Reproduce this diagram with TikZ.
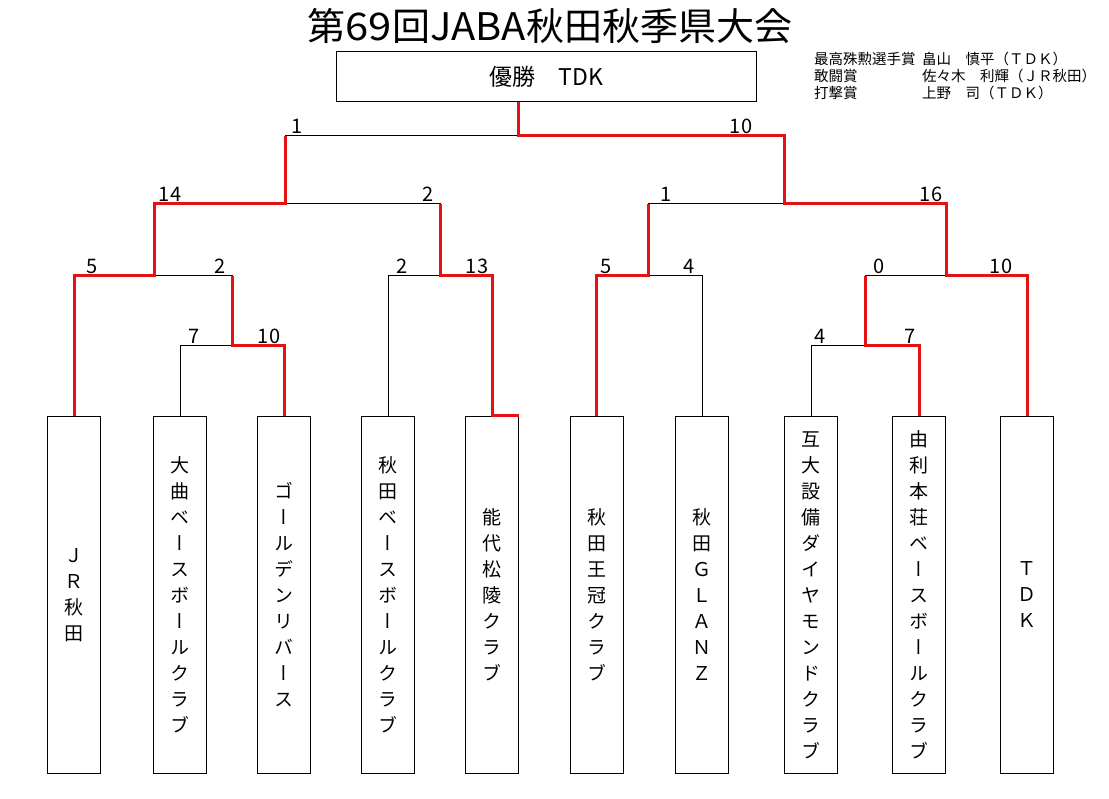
\documentclass[tikz,border=0pt]{standalone}
\usepackage{fontspec}
\usepackage{graphicx}
\setmainfont{Noto Sans CJK JP}
\newfontfamily\vfont[RawFeature=+vert]{Noto Sans CJK JP}
\definecolor{winred}{RGB}{228,18,18}
\begin{document}
\begin{tikzpicture}[x=1pt,y=-1pt,
  team/.style={draw,line width=1pt,minimum width=53,minimum height=357,inner sep=0,anchor=north,align=center,font={\vfont\fontsize{19}{26}\selectfont}},
  bk/.style={line width=1pt,black},
  win/.style={line width=3pt,winred},
  score/.style={anchor=base,inner sep=0,font={\fontsize{20}{20}\selectfont}},
  award/.style={anchor=west,inner sep=0,font={\fontsize{14.5}{14.5}\selectfont}}]
\useasboundingbox (0,0) rectangle (1109,799);
% title
\node[inner sep=0] (title) at (550,26) {\fontsize{38}{38}\selectfont 第\scalebox{1.1}[1]{69}回\scalebox{1.05}[1]{JABA}秋田秋季県大会};
% champion
\node[draw,line width=1pt,minimum width=420,minimum height=50,inner sep=0] (champ) at (546.5,77) {\fontsize{23}{23}\selectfont 優勝　TDK};
% awards
\node[award] (a1) at (814,59) {最高殊勲選手賞};
\node[award] (a1n) at (922,59) {畠山　慎平（ＴＤＫ）};
\node[award] (a2) at (814,76) {敢闘賞};
\node[award] (a2n) at (922,76) {佐々木　利輝（ＪＲ秋田）};
\node[award] (a3) at (814,93) {打撃賞};
\node[award] (a3n) at (922,93) {上野　司（ＴＤＫ）};
% teams
\node[team] (t1) at (74,416) {Ｊ\\Ｒ\\秋\\田};
\node[team] (t2) at (180,416) {大\\曲\\ベ\\ー\\ス\\ボ\\ー\\ル\\ク\\ラ\\ブ};
\node[team] (t3) at (284,416) {ゴ\\ー\\ル\\デ\\ン\\リ\\バ\\ー\\ス};
\node[team] (t4) at (388,416) {秋\\田\\ベ\\ー\\ス\\ボ\\ー\\ル\\ク\\ラ\\ブ};
\node[team] (t5) at (492,416) {能\\代\\松\\陵\\ク\\ラ\\ブ};
\node[team] (t6) at (596.5,416) {秋\\田\\王\\冠\\ク\\ラ\\ブ};
\node[team] (t7) at (702,416) {秋\\田\\Ｇ\\Ｌ\\Ａ\\Ｎ\\Ｚ};
\node[team] (t8) at (811,416) {互\\大\\設\\備\\ダ\\イ\\ヤ\\モ\\ン\\ド\\ク\\ラ\\ブ};
\node[team] (t9) at (919,416) {由\\利\\本\\荘\\ベ\\ー\\ス\\ボ\\ー\\ル\\ク\\ラ\\ブ};
\node[team] (t10) at (1027,416) {Ｔ\\Ｄ\\Ｋ};
% junctions
\coordinate (j23) at (232,346);
\coordinate (j89) at (865,346);
\coordinate (jA) at (154,276);
\coordinate (jB) at (440,276);
\coordinate (jC) at (648,276);
\coordinate (jD) at (946,276);
\coordinate (jE) at (285,204);
\coordinate (jF) at (784,204);
\coordinate (jG) at (518,136);
% black brackets
\draw[bk] (t2.north) |- (t3.north |- j23) -- (t3.north);
\draw[bk] (t8.north) |- (t9.north |- j89) -- (t9.north);
\draw[bk] (t1.north) |- (j23 |- jA) -- (j23);
\draw[bk] (t4.north) |- (t5.north |- jB) -- (t5.north);
\draw[bk] (t6.north) |- (t7.north |- jC) -- (t7.north);
\draw[bk] (j89) |- (t10.north |- jD) -- (t10.north);
\draw[bk] (jA) |- (jB |- jE) -- (jB);
\draw[bk] (jC) |- (jD |- jF) -- (jD);
\draw[bk] (jE) |- (jF |- jG) -- (jF);
% winners
\draw[win] (t3.north) |- (j23) -- (j23 |- jA);
\draw[win] (t1.north) |- (jA) -- (jA |- jE) -- (jE) -- (jE |- jG);
\draw[win] (t5.north east) -- (t5.north) |- (jB) -- (jB |- jE);
\draw[win] (t6.north) |- (jC) -- (jC |- jF);
\draw[win] (t9.north) |- (j89) -- (j89 |- jD);
\draw[win] (t10.north) |- (jD) -- (jD |- jF) -- (jF) -- (jF |- jG) -- (jG) -- (jG |- champ.south);
% scores
\node[score] (s1) at (297,134) {1};
\node[score] (s2) at (741,134) {10};
\node[score] (s3) at (170,202) {14};
\node[score] (s4) at (428,202) {2};
\node[score] (s5) at (666,202) {1};
\node[score] (s6) at (931,202) {16};
\node[score] (s7) at (92,274) {5};
\node[score] (s8) at (220,274) {2};
\node[score] (s9) at (402,274) {2};
\node[score] (s10) at (477,274) {13};
\node[score] (s11) at (606,274) {5};
\node[score] (s12) at (689,274) {4};
\node[score] (s13) at (879,274) {0};
\node[score] (s14) at (1001,274) {10};
\node[score] (s15) at (194,344) {7};
\node[score] (s16) at (269,344) {10};
\node[score] (s17) at (820,344) {4};
\node[score] (s18) at (910,344) {7};
\end{tikzpicture}
\end{document}
